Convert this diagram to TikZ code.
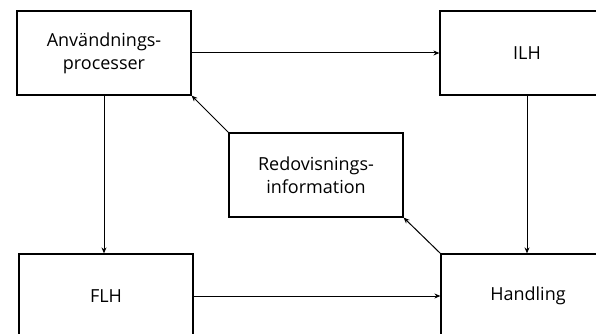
\documentclass[tikz,border=0pt]{standalone}
\usepackage{fontspec}
\setmainfont{Open Sans}
\usetikzlibrary{arrows.meta}
\begin{document}
\begin{tikzpicture}[x=1pt,y=-1pt,
  box/.style={draw,line width=1.2pt,rectangle,minimum width=174pt,minimum height=84pt,inner sep=0pt,align=center,font=\fontsize{18}{23}\selectfont},
  conn/.style={line width=1pt,-{Stealth[length=6pt,width=5pt]}}]
\useasboundingbox (0,0) rectangle (596,334);
\clip (0,0) rectangle (596,334);
\node[box] (anv) at (104,53) {Användnings-\\processer};
\node[box] (ilh) at (527,53) {ILH};
\node[box] (red) at (316,175) {Redovisnings-\\information};
\node[box] (flh) at (106,296) {FLH};
\node[box] (hand) at (528,296) {Handling};
\draw[conn] (anv.east) -- (ilh.west);
\draw[conn] (anv.south) -- (anv.south |- flh.north);
\draw[conn] (ilh.south) -- (ilh.south |- hand.north);
\draw[conn] (flh.east) -- (hand.west);
\draw[conn] (hand.north west) -- (red.south east);
\draw[conn] (red.north west) -- (anv.south east);
\end{tikzpicture}
\end{document}
